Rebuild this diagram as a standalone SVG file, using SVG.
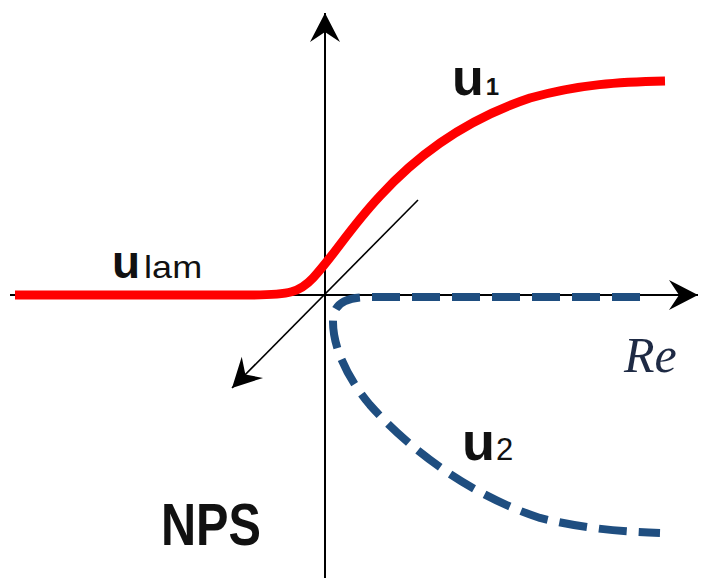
<svg xmlns="http://www.w3.org/2000/svg" width="705" height="580" viewBox="0 0 705 580">
<style>
.axis{stroke:#000;stroke-width:2;fill:none}
.diag{stroke:#000;stroke-width:1.6;fill:none}
.lbl{font-family:"Liberation Sans",Arial,sans-serif;fill:#111}
.b{font-weight:bold}
</style>
<defs>
<marker id="ah" markerUnits="userSpaceOnUse" markerWidth="40" markerHeight="40" viewBox="-32 -20 40 40" refX="0" refY="0" orient="auto">
<path d="M0,0 L-29,-15 L-19,0 L-29,15 Z" fill="#000"/>
</marker>
</defs>
<rect width="705" height="580" fill="#fff"/>
<g id="connectors">
<line class="axis" x1="325" y1="578" x2="325" y2="13" marker-end="url(#ah)"/>
<line class="axis" x1="10" y1="295" x2="698" y2="295" marker-end="url(#ah)"/>
<line class="diag" x1="418" y1="200" x2="232" y2="388" marker-end="url(#ah)"/>
</g>
<g id="curve-u1">
<path d="M15,295 L250,295 C290,295 300,292 313,278 C335,254 350,228 380,196 C420,152 470,118 530,98 C580,84 620,82 665,81" fill="none" stroke="#ff0000" stroke-width="9"/>
</g>
<g id="curve-u2">
<path d="M640,297 L370,297 C345,297 333,303 333,322 C333,345 345,375 370,405 C410,450 470,495 540,518 C590,530 630,532 660,533" fill="none" stroke="#1f4e80" stroke-width="8" stroke-dasharray="28 12"/>
</g>
<g id="label-u1">
<text class="lbl" x="452" y="95"><tspan class="b" font-size="52">u</tspan><tspan class="b" font-size="24" dx="2">1</tspan></text>
</g>
<g id="label-ulam">
<text class="lbl" x="112" y="278"><tspan class="b" font-size="46">u</tspan><tspan font-size="32" dx="4" textLength="58" lengthAdjust="spacingAndGlyphs">lam</tspan></text>
</g>
<g id="label-u2">
<text class="lbl" x="462" y="460"><tspan class="b" font-size="54">u</tspan><tspan font-size="31" dx="1">2</tspan></text>
</g>
<g id="label-nps">
<text class="lbl b" x="161" y="545" font-size="60" textLength="100" lengthAdjust="spacingAndGlyphs">NPS</text>
</g>
<g id="label-re">
<text x="624" y="372" font-family="'Liberation Serif','Times New Roman',serif" font-style="italic" font-size="50" fill="#1e2a44">Re</text>
</g>
</svg>
